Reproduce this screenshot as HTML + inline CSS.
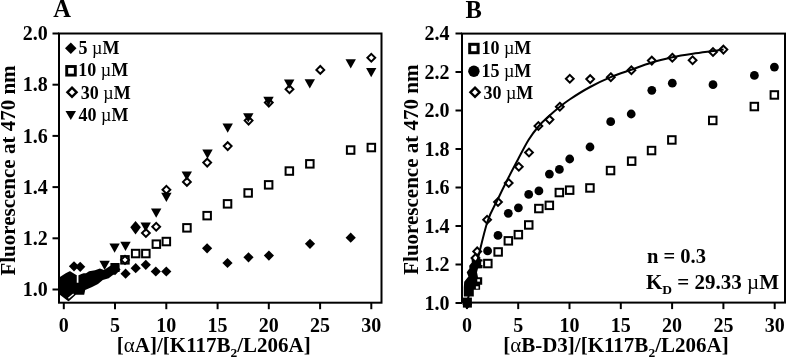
<!DOCTYPE html>
<html><head><meta charset="utf-8"><style>
html,body{margin:0;padding:0;background:#fff;}
svg{display:block;will-change:transform;}
text{font-family:"Liberation Serif",serif;font-weight:bold;fill:#000;}
.tk{font-size:20px;}
.lg{font-size:18px;}
.mu{font-weight:normal;}
.pl{font-size:24.5px;}
.yt{font-size:21px;}
.xt{font-size:21px;}
.sub{font-size:13.5px;}
.an{font-size:20.5px;}
.an2{font-size:21px;}
.sub2{font-size:13.5px;}
</style></head>
<body><svg width="786" height="358" viewBox="0 0 786 358">
<rect x="59.0" y="33.5" width="322.5" height="269.2" fill="none" stroke="#000" stroke-width="2.0"/>
<line x1="52.5" y1="289.5" x2="59.0" y2="289.5" stroke="#000" stroke-width="2.0"/>
<text x="47.8" y="296.1" text-anchor="end" class="tk">1.0</text>
<line x1="52.5" y1="238.3" x2="59.0" y2="238.3" stroke="#000" stroke-width="2.0"/>
<text x="47.8" y="244.9" text-anchor="end" class="tk">1.2</text>
<line x1="52.5" y1="187.1" x2="59.0" y2="187.1" stroke="#000" stroke-width="2.0"/>
<text x="47.8" y="193.7" text-anchor="end" class="tk">1.4</text>
<line x1="52.5" y1="135.9" x2="59.0" y2="135.9" stroke="#000" stroke-width="2.0"/>
<text x="47.8" y="142.5" text-anchor="end" class="tk">1.6</text>
<line x1="52.5" y1="84.7" x2="59.0" y2="84.7" stroke="#000" stroke-width="2.0"/>
<text x="47.8" y="91.3" text-anchor="end" class="tk">1.8</text>
<line x1="52.5" y1="33.5" x2="59.0" y2="33.5" stroke="#000" stroke-width="2.0"/>
<text x="47.8" y="40.1" text-anchor="end" class="tk">2.0</text>
<line x1="63.8" y1="302.7" x2="63.8" y2="309.2" stroke="#000" stroke-width="2.0"/>
<text x="63.8" y="331.5" text-anchor="middle" class="tk">0</text>
<line x1="115.0" y1="302.7" x2="115.0" y2="309.2" stroke="#000" stroke-width="2.0"/>
<text x="115.0" y="331.5" text-anchor="middle" class="tk">5</text>
<line x1="166.3" y1="302.7" x2="166.3" y2="309.2" stroke="#000" stroke-width="2.0"/>
<text x="166.3" y="331.5" text-anchor="middle" class="tk">10</text>
<line x1="217.6" y1="302.7" x2="217.6" y2="309.2" stroke="#000" stroke-width="2.0"/>
<text x="217.6" y="331.5" text-anchor="middle" class="tk">15</text>
<line x1="268.8" y1="302.7" x2="268.8" y2="309.2" stroke="#000" stroke-width="2.0"/>
<text x="268.8" y="331.5" text-anchor="middle" class="tk">20</text>
<line x1="320.1" y1="302.7" x2="320.1" y2="309.2" stroke="#000" stroke-width="2.0"/>
<text x="320.1" y="331.5" text-anchor="middle" class="tk">25</text>
<line x1="371.3" y1="302.7" x2="371.3" y2="309.2" stroke="#000" stroke-width="2.0"/>
<text x="371.3" y="331.5" text-anchor="middle" class="tk">30</text>
<rect x="462.0" y="33.6" width="323.0" height="269.0" fill="none" stroke="#000" stroke-width="2.0"/>
<line x1="455.5" y1="303.0" x2="462.0" y2="303.0" stroke="#000" stroke-width="2.0"/>
<text x="449.5" y="309.6" text-anchor="end" class="tk">1.0</text>
<line x1="455.5" y1="264.5" x2="462.0" y2="264.5" stroke="#000" stroke-width="2.0"/>
<text x="449.5" y="271.1" text-anchor="end" class="tk">1.2</text>
<line x1="455.5" y1="226.0" x2="462.0" y2="226.0" stroke="#000" stroke-width="2.0"/>
<text x="449.5" y="232.6" text-anchor="end" class="tk">1.4</text>
<line x1="455.5" y1="187.5" x2="462.0" y2="187.5" stroke="#000" stroke-width="2.0"/>
<text x="449.5" y="194.1" text-anchor="end" class="tk">1.6</text>
<line x1="455.5" y1="149.0" x2="462.0" y2="149.0" stroke="#000" stroke-width="2.0"/>
<text x="449.5" y="155.6" text-anchor="end" class="tk">1.8</text>
<line x1="455.5" y1="110.5" x2="462.0" y2="110.5" stroke="#000" stroke-width="2.0"/>
<text x="449.5" y="117.1" text-anchor="end" class="tk">2.0</text>
<line x1="455.5" y1="72.0" x2="462.0" y2="72.0" stroke="#000" stroke-width="2.0"/>
<text x="449.5" y="78.6" text-anchor="end" class="tk">2.2</text>
<line x1="455.5" y1="33.5" x2="462.0" y2="33.5" stroke="#000" stroke-width="2.0"/>
<text x="449.5" y="40.1" text-anchor="end" class="tk">2.4</text>
<line x1="466.9" y1="302.6" x2="466.9" y2="309.1" stroke="#000" stroke-width="2.0"/>
<text x="466.9" y="331.5" text-anchor="middle" class="tk">0</text>
<line x1="518.2" y1="302.6" x2="518.2" y2="309.1" stroke="#000" stroke-width="2.0"/>
<text x="518.2" y="331.5" text-anchor="middle" class="tk">5</text>
<line x1="569.5" y1="302.6" x2="569.5" y2="309.1" stroke="#000" stroke-width="2.0"/>
<text x="569.5" y="331.5" text-anchor="middle" class="tk">10</text>
<line x1="620.8" y1="302.6" x2="620.8" y2="309.1" stroke="#000" stroke-width="2.0"/>
<text x="620.8" y="331.5" text-anchor="middle" class="tk">15</text>
<line x1="672.1" y1="302.6" x2="672.1" y2="309.1" stroke="#000" stroke-width="2.0"/>
<text x="672.1" y="331.5" text-anchor="middle" class="tk">20</text>
<line x1="723.4" y1="302.6" x2="723.4" y2="309.1" stroke="#000" stroke-width="2.0"/>
<text x="723.4" y="331.5" text-anchor="middle" class="tk">25</text>
<line x1="774.7" y1="302.6" x2="774.7" y2="309.1" stroke="#000" stroke-width="2.0"/>
<text x="774.7" y="331.5" text-anchor="middle" class="tk">30</text>
<path d="M59.5 277.2 L65.7 273.3 L69.6 271.3 L74.5 272.3 L77.6 274.5 L80.0 273.2 L86.0 273.2 L89.1 271.3 L95.0 270.3 L99.9 268.4 L104.0 270.0 L110.0 266.0 L115.0 264.0 L116.5 273.3 L112.6 275.2 L108.7 278.2 L102.8 280.1 L98.0 284.0 L92.1 287.0 L85.2 289.9 L84.2 294.8 L75.8 294.8 L69.6 300.6 L68.3 301.2 L59.5 294.5Z" fill="#000"/>
<path d="M71.4 271 L77.6 274.8 L83.8 272 M77.6 274.8 L77.6 282.7" stroke="#fff" stroke-width="1.7" fill="none"/>
<path d="M74.0 261.2L79.1 266.3L74.0 271.4L68.9 266.3Z" fill="#000"/>
<path d="M80.2 261.7L85.3 266.8L80.2 271.9L75.1 266.8Z" fill="#000"/>
<path d="M68.4 298.3 L73.6 293.9" stroke="#fff" stroke-width="1.3"/>
<path d="M99.4 260.8L109.8 260.8L104.6 270.0Z" fill="#000"/>
<path d="M115.0 264.0L120.6 269.6L115.0 275.2L109.4 269.6Z" fill="#000"/>
<rect x="110.4" y="263" width="9.2" height="9" fill="#000"/>
<rect x="121.2" y="256.1" width="7.5" height="7.5" fill="#fff" stroke="#000" stroke-width="2.0"/>
<rect x="131.9" y="249.8" width="7.5" height="7.5" fill="#fff" stroke="#000" stroke-width="2.0"/>
<rect x="142.1" y="249.8" width="7.5" height="7.5" fill="#fff" stroke="#000" stroke-width="2.0"/>
<rect x="152.6" y="240.4" width="7.5" height="7.5" fill="#fff" stroke="#000" stroke-width="2.0"/>
<rect x="162.6" y="237.8" width="7.5" height="7.5" fill="#fff" stroke="#000" stroke-width="2.0"/>
<rect x="183.2" y="224.1" width="7.5" height="7.5" fill="#fff" stroke="#000" stroke-width="2.0"/>
<rect x="203.4" y="211.9" width="7.5" height="7.5" fill="#fff" stroke="#000" stroke-width="2.0"/>
<rect x="223.8" y="200.1" width="7.5" height="7.5" fill="#fff" stroke="#000" stroke-width="2.0"/>
<rect x="244.4" y="189.2" width="7.5" height="7.5" fill="#fff" stroke="#000" stroke-width="2.0"/>
<rect x="264.9" y="181.1" width="7.5" height="7.5" fill="#fff" stroke="#000" stroke-width="2.0"/>
<rect x="285.6" y="167.3" width="7.5" height="7.5" fill="#fff" stroke="#000" stroke-width="2.0"/>
<rect x="306.1" y="160.1" width="7.5" height="7.5" fill="#fff" stroke="#000" stroke-width="2.0"/>
<rect x="346.9" y="146.3" width="7.5" height="7.5" fill="#fff" stroke="#000" stroke-width="2.0"/>
<rect x="367.6" y="143.8" width="7.5" height="7.5" fill="#fff" stroke="#000" stroke-width="2.0"/>
<path d="M125.6 268.6L130.7 273.7L125.6 278.8L120.5 273.7Z" fill="#000"/>
<path d="M135.7 263.1L140.8 268.2L135.7 273.3L130.6 268.2Z" fill="#000"/>
<path d="M145.8 259.7L150.9 264.8L145.8 269.9L140.7 264.8Z" fill="#000"/>
<path d="M155.8 266.4L160.9 271.5L155.8 276.6L150.7 271.5Z" fill="#000"/>
<path d="M166.3 266.4L171.4 271.5L166.3 276.6L161.2 271.5Z" fill="#000"/>
<path d="M207.1 243.2L212.2 248.3L207.1 253.4L202.0 248.3Z" fill="#000"/>
<path d="M227.5 257.9L232.6 263.0L227.5 268.1L222.4 263.0Z" fill="#000"/>
<path d="M248.5 252.2L253.6 257.3L248.5 262.4L243.4 257.3Z" fill="#000"/>
<path d="M268.9 250.5L274.0 255.6L268.9 260.7L263.8 255.6Z" fill="#000"/>
<path d="M310.0 238.7L315.1 243.8L310.0 248.9L304.9 243.8Z" fill="#000"/>
<path d="M350.7 232.6L355.8 237.7L350.7 242.8L345.6 237.7Z" fill="#000"/>
<path d="M135.5 221.0 L140.9 227.2 L135.5 234.6 L130.3 227.2Z" fill="#000"/>
<path d="M125.0 256.0L128.9 259.9L125.0 263.8L121.1 259.9Z" fill="#fff" stroke="#000" stroke-width="2.0"/>
<path d="M145.9 229.1L149.8 233.0L145.9 236.9L142.0 233.0Z" fill="#fff" stroke="#000" stroke-width="2.0"/>
<path d="M156.2 222.9L160.1 226.8L156.2 230.7L152.3 226.8Z" fill="#fff" stroke="#000" stroke-width="2.0"/>
<path d="M166.4 185.9L170.3 189.8L166.4 193.7L162.5 189.8Z" fill="#fff" stroke="#000" stroke-width="2.0"/>
<path d="M186.9 178.0L190.8 181.9L186.9 185.8L183.0 181.9Z" fill="#fff" stroke="#000" stroke-width="2.0"/>
<path d="M207.2 158.7L211.1 162.6L207.2 166.5L203.3 162.6Z" fill="#fff" stroke="#000" stroke-width="2.0"/>
<path d="M227.7 142.2L231.6 146.1L227.7 150.0L223.8 146.1Z" fill="#fff" stroke="#000" stroke-width="2.0"/>
<path d="M248.6 116.7L252.5 120.6L248.6 124.5L244.7 120.6Z" fill="#fff" stroke="#000" stroke-width="2.0"/>
<path d="M268.8 98.7L272.7 102.6L268.8 106.5L264.9 102.6Z" fill="#fff" stroke="#000" stroke-width="2.0"/>
<path d="M289.5 85.4L293.4 89.3L289.5 93.2L285.6 89.3Z" fill="#fff" stroke="#000" stroke-width="2.0"/>
<path d="M320.3 66.0L324.2 69.9L320.3 73.8L316.4 69.9Z" fill="#fff" stroke="#000" stroke-width="2.0"/>
<path d="M371.3 53.9L375.2 57.8L371.3 61.7L367.4 57.8Z" fill="#fff" stroke="#000" stroke-width="2.0"/>
<path d="M109.4 243.5L119.8 243.5L114.6 252.7Z" fill="#000"/>
<path d="M120.3 241.8L130.7 241.8L125.5 251.0Z" fill="#000"/>
<path d="M140.5 222.5L150.9 222.5L145.7 231.7Z" fill="#000"/>
<path d="M151.0 208.5L161.4 208.5L156.2 217.7Z" fill="#000"/>
<path d="M161.2 192.7L171.6 192.7L166.4 201.9Z" fill="#000"/>
<path d="M181.6 171.4L192.0 171.4L186.8 180.6Z" fill="#000"/>
<path d="M202.3 149.5L212.7 149.5L207.5 158.7Z" fill="#000"/>
<path d="M222.5 123.5L232.9 123.5L227.7 132.7Z" fill="#000"/>
<path d="M243.1 113.2L253.5 113.2L248.3 122.4Z" fill="#000"/>
<path d="M263.3 96.8L273.7 96.8L268.5 106.0Z" fill="#000"/>
<path d="M284.0 79.6L294.4 79.6L289.2 88.8Z" fill="#000"/>
<path d="M304.6 79.2L315.0 79.2L309.8 88.4Z" fill="#000"/>
<path d="M345.5 59.2L355.9 59.2L350.7 68.4Z" fill="#000"/>
<path d="M366.1 68.0L376.4 68.0L371.2 77.2Z" fill="#000"/>
<path d="M471.5 258.0 L474.5 255.5 L478.0 258.0 L480.0 259.0 L482.5 259.5 L482.5 268.2 L478.0 268.5 L477.0 272.2 L478.0 277.2 L482.2 277.2 L482.2 284.8 L480.1 284.8 L480.1 289.8 L473.8 289.8 L473.8 296.5 L463.8 296.5 L463.8 287.3 L464.2 281.8 L468.4 276.6 L466.7 272.2 L469.4 268.6 L469.2 265.8 L471.8 262.5Z" fill="#000"/>
<rect x="462.9" y="297.6" width="9" height="10" fill="#000"/>
<path d="M467.2 299.3L472.1 304.2L467.2 309.1L462.3 304.2Z" fill="#000"/>
<rect x="477.3" y="279.2" width="2.6" height="2.4" fill="#fff"/>
<rect x="475.9" y="286.3" width="2.6" height="2.4" fill="#fff"/>
<path d="M475.5 254.1L479.4 258.0L475.5 261.9L471.6 258.0Z" fill="#fff" stroke="#000" stroke-width="2.0"/>
<rect x="481.2" y="261.5" width="1.8" height="3.5" fill="#fff"/>
<rect x="484.1" y="259.8" width="7.5" height="7.5" fill="#fff" stroke="#000" stroke-width="2.0"/>
<rect x="494.4" y="248.2" width="7.5" height="7.5" fill="#fff" stroke="#000" stroke-width="2.0"/>
<rect x="504.6" y="237.1" width="7.5" height="7.5" fill="#fff" stroke="#000" stroke-width="2.0"/>
<rect x="514.6" y="230.9" width="7.5" height="7.5" fill="#fff" stroke="#000" stroke-width="2.0"/>
<rect x="525.0" y="221.2" width="7.5" height="7.5" fill="#fff" stroke="#000" stroke-width="2.0"/>
<rect x="535.1" y="204.8" width="7.5" height="7.5" fill="#fff" stroke="#000" stroke-width="2.0"/>
<rect x="545.6" y="201.6" width="7.5" height="7.5" fill="#fff" stroke="#000" stroke-width="2.0"/>
<rect x="555.6" y="188.8" width="7.5" height="7.5" fill="#fff" stroke="#000" stroke-width="2.0"/>
<rect x="565.9" y="186.4" width="7.5" height="7.5" fill="#fff" stroke="#000" stroke-width="2.0"/>
<rect x="586.2" y="184.2" width="7.5" height="7.5" fill="#fff" stroke="#000" stroke-width="2.0"/>
<rect x="606.8" y="166.8" width="7.5" height="7.5" fill="#fff" stroke="#000" stroke-width="2.0"/>
<rect x="627.9" y="157.4" width="7.5" height="7.5" fill="#fff" stroke="#000" stroke-width="2.0"/>
<rect x="647.8" y="146.8" width="7.5" height="7.5" fill="#fff" stroke="#000" stroke-width="2.0"/>
<rect x="668.1" y="136.2" width="7.5" height="7.5" fill="#fff" stroke="#000" stroke-width="2.0"/>
<rect x="709.0" y="116.7" width="7.5" height="7.5" fill="#fff" stroke="#000" stroke-width="2.0"/>
<rect x="750.6" y="102.8" width="7.5" height="7.5" fill="#fff" stroke="#000" stroke-width="2.0"/>
<rect x="770.6" y="91.2" width="7.5" height="7.5" fill="#fff" stroke="#000" stroke-width="2.0"/>
<circle cx="487.6" cy="250.9" r="4.4" fill="#000"/>
<circle cx="498.0" cy="235.4" r="4.4" fill="#000"/>
<circle cx="508.3" cy="213.3" r="4.4" fill="#000"/>
<circle cx="518.4" cy="207.8" r="4.4" fill="#000"/>
<circle cx="528.7" cy="194.4" r="4.4" fill="#000"/>
<circle cx="538.9" cy="190.9" r="4.4" fill="#000"/>
<circle cx="549.4" cy="174.1" r="4.4" fill="#000"/>
<circle cx="559.4" cy="169.4" r="4.4" fill="#000"/>
<circle cx="569.7" cy="159.0" r="4.4" fill="#000"/>
<circle cx="590.0" cy="147.0" r="4.4" fill="#000"/>
<circle cx="610.7" cy="121.7" r="4.4" fill="#000"/>
<circle cx="631.2" cy="114.0" r="4.4" fill="#000"/>
<circle cx="651.8" cy="90.3" r="4.4" fill="#000"/>
<circle cx="672.3" cy="83.2" r="4.4" fill="#000"/>
<circle cx="713.0" cy="84.7" r="4.4" fill="#000"/>
<circle cx="754.4" cy="75.4" r="4.4" fill="#000"/>
<circle cx="774.4" cy="67.1" r="4.4" fill="#000"/>
<path d="M477.2 247.5L481.1 251.4L477.2 255.3L473.3 251.4Z" fill="#fff" stroke="#000" stroke-width="2.0"/>
<path d="M487.1 215.9L491.0 219.8L487.1 223.7L483.2 219.8Z" fill="#fff" stroke="#000" stroke-width="2.0"/>
<path d="M498.0 198.1L501.9 202.0L498.0 205.9L494.1 202.0Z" fill="#fff" stroke="#000" stroke-width="2.0"/>
<path d="M508.7 179.1L512.6 183.0L508.7 186.9L504.8 183.0Z" fill="#fff" stroke="#000" stroke-width="2.0"/>
<path d="M518.8 162.9L522.7 166.8L518.8 170.7L514.9 166.8Z" fill="#fff" stroke="#000" stroke-width="2.0"/>
<path d="M529.0 148.6L532.9 152.5L529.0 156.4L525.1 152.5Z" fill="#fff" stroke="#000" stroke-width="2.0"/>
<path d="M538.4 122.1L542.3 126.0L538.4 129.9L534.5 126.0Z" fill="#fff" stroke="#000" stroke-width="2.0"/>
<path d="M549.5 115.7L553.4 119.6L549.5 123.5L545.6 119.6Z" fill="#fff" stroke="#000" stroke-width="2.0"/>
<path d="M559.8 102.8L563.7 106.7L559.8 110.6L555.9 106.7Z" fill="#fff" stroke="#000" stroke-width="2.0"/>
<path d="M569.8 74.9L573.7 78.8L569.8 82.7L565.9 78.8Z" fill="#fff" stroke="#000" stroke-width="2.0"/>
<path d="M590.2 75.2L594.1 79.1L590.2 83.0L586.3 79.1Z" fill="#fff" stroke="#000" stroke-width="2.0"/>
<path d="M610.8 73.3L614.7 77.2L610.8 81.1L606.9 77.2Z" fill="#fff" stroke="#000" stroke-width="2.0"/>
<path d="M631.4 66.4L635.3 70.3L631.4 74.2L627.5 70.3Z" fill="#fff" stroke="#000" stroke-width="2.0"/>
<path d="M651.8 56.7L655.7 60.6L651.8 64.5L647.9 60.6Z" fill="#fff" stroke="#000" stroke-width="2.0"/>
<path d="M672.3 53.8L676.2 57.7L672.3 61.6L668.4 57.7Z" fill="#fff" stroke="#000" stroke-width="2.0"/>
<path d="M692.6 56.4L696.5 60.3L692.6 64.2L688.7 60.3Z" fill="#fff" stroke="#000" stroke-width="2.0"/>
<path d="M713.0 48.1L716.9 52.0L713.0 55.9L709.1 52.0Z" fill="#fff" stroke="#000" stroke-width="2.0"/>
<path d="M723.4 45.7L727.3 49.6L723.4 53.5L719.5 49.6Z" fill="#fff" stroke="#000" stroke-width="2.0"/>
<path d="M466.9 303.0 C468.6 296.1 473.8 275.1 477.2 261.5 C480.6 247.9 484.1 231.8 487.5 221.5 C490.9 211.2 494.3 206.7 497.7 199.5 C501.1 192.3 504.6 185.2 508.0 178.5 C511.4 171.8 514.8 165.4 518.2 159.0 C521.6 152.6 525.1 145.5 528.5 140.0 C531.9 134.5 535.4 130.0 538.8 126.0 C542.2 122.0 545.7 119.1 549.1 116.0 C552.5 112.9 555.9 110.0 559.3 107.3 C562.7 104.5 564.5 102.9 569.6 99.5 C574.7 96.1 583.2 90.7 590.1 87.0 C597.0 83.3 603.9 80.1 610.7 77.2 C617.6 74.3 624.4 72.2 631.2 69.8 C638.1 67.3 644.9 64.6 651.8 62.5 C658.6 60.4 665.5 58.8 672.3 57.3 C679.1 55.8 685.9 54.8 692.8 53.8 C699.6 52.8 708.3 51.7 713.4 51.0 C718.5 50.3 721.9 49.8 723.6 49.6" fill="none" stroke="#000" stroke-width="2"/>
<path d="M70.8 42.5L76.5 48.3L70.8 54.1L65.0 48.3Z" fill="#000"/>
<text x="78.5" y="53.6" class="lg">5 <tspan class="mu">µ</tspan>M</text>
<rect x="66.7" y="66.5" width="8.6" height="8.6" fill="#fff" stroke="#000" stroke-width="2.9"/>
<text x="78.3" y="76.4" class="lg">10 <tspan class="mu">µ</tspan>M</text>
<path d="M72.0 87.7L76.6 92.3L72.0 96.9L67.4 92.3Z" fill="#fff" stroke="#000" stroke-width="2.4"/>
<text x="80.8" y="98.9" class="lg">30 <tspan class="mu">µ</tspan>M</text>
<path d="M65.5 110.9L76.0 110.9L70.8 120.0Z" fill="#000"/>
<text x="78.55" y="121.4" class="lg">40 <tspan class="mu">µ</tspan>M</text>
<rect x="469.7" y="44.3" width="8.4" height="8.4" fill="#fff" stroke="#000" stroke-width="3.0"/>
<text x="481.4" y="54.3" class="lg">10 <tspan class="mu">µ</tspan>M</text>
<circle cx="473.9" cy="71.2" r="5.7" fill="#000"/>
<text x="481.4" y="76.9" class="lg">15 <tspan class="mu">µ</tspan>M</text>
<path d="M475.0 87.7L479.6 92.3L475.0 96.9L470.4 92.3Z" fill="#fff" stroke="#000" stroke-width="2.4"/>
<text x="483.4" y="98.9" class="lg">30 <tspan class="mu">µ</tspan>M</text>
<text x="53.3" y="16.7" class="pl">A</text>
<text x="465.6" y="18.4" class="pl">B</text>
<text transform="translate(15.4 170.5) rotate(-90)" text-anchor="middle" class="yt">Fluorescence at 470 nm</text>
<text transform="translate(417.6 169.7) rotate(-90)" text-anchor="middle" class="yt">Fluorescence at 470 nm</text>
<text x="116.8" y="351.6" class="xt">[<tspan class="mu">α</tspan>A]/[K117B<tspan class="sub" dy="5.5">2</tspan><tspan dy="-5.5">/L206A]</tspan></text>
<text x="503.2" y="351.6" class="xt">[<tspan class="mu">α</tspan>B-D3]/[K117B<tspan class="sub" dy="5.5">2</tspan><tspan dy="-5.5">/L206A]</tspan></text>
<text x="647" y="263.2" class="an">n = 0.3</text>
<text x="646.0" y="288.5" class="an2">K<tspan class="sub2" dy="5.8">D</tspan><tspan dy="-5.8"> = 29.33 <tspan class="mu">µ</tspan>M</tspan></text>
</svg></body></html>
